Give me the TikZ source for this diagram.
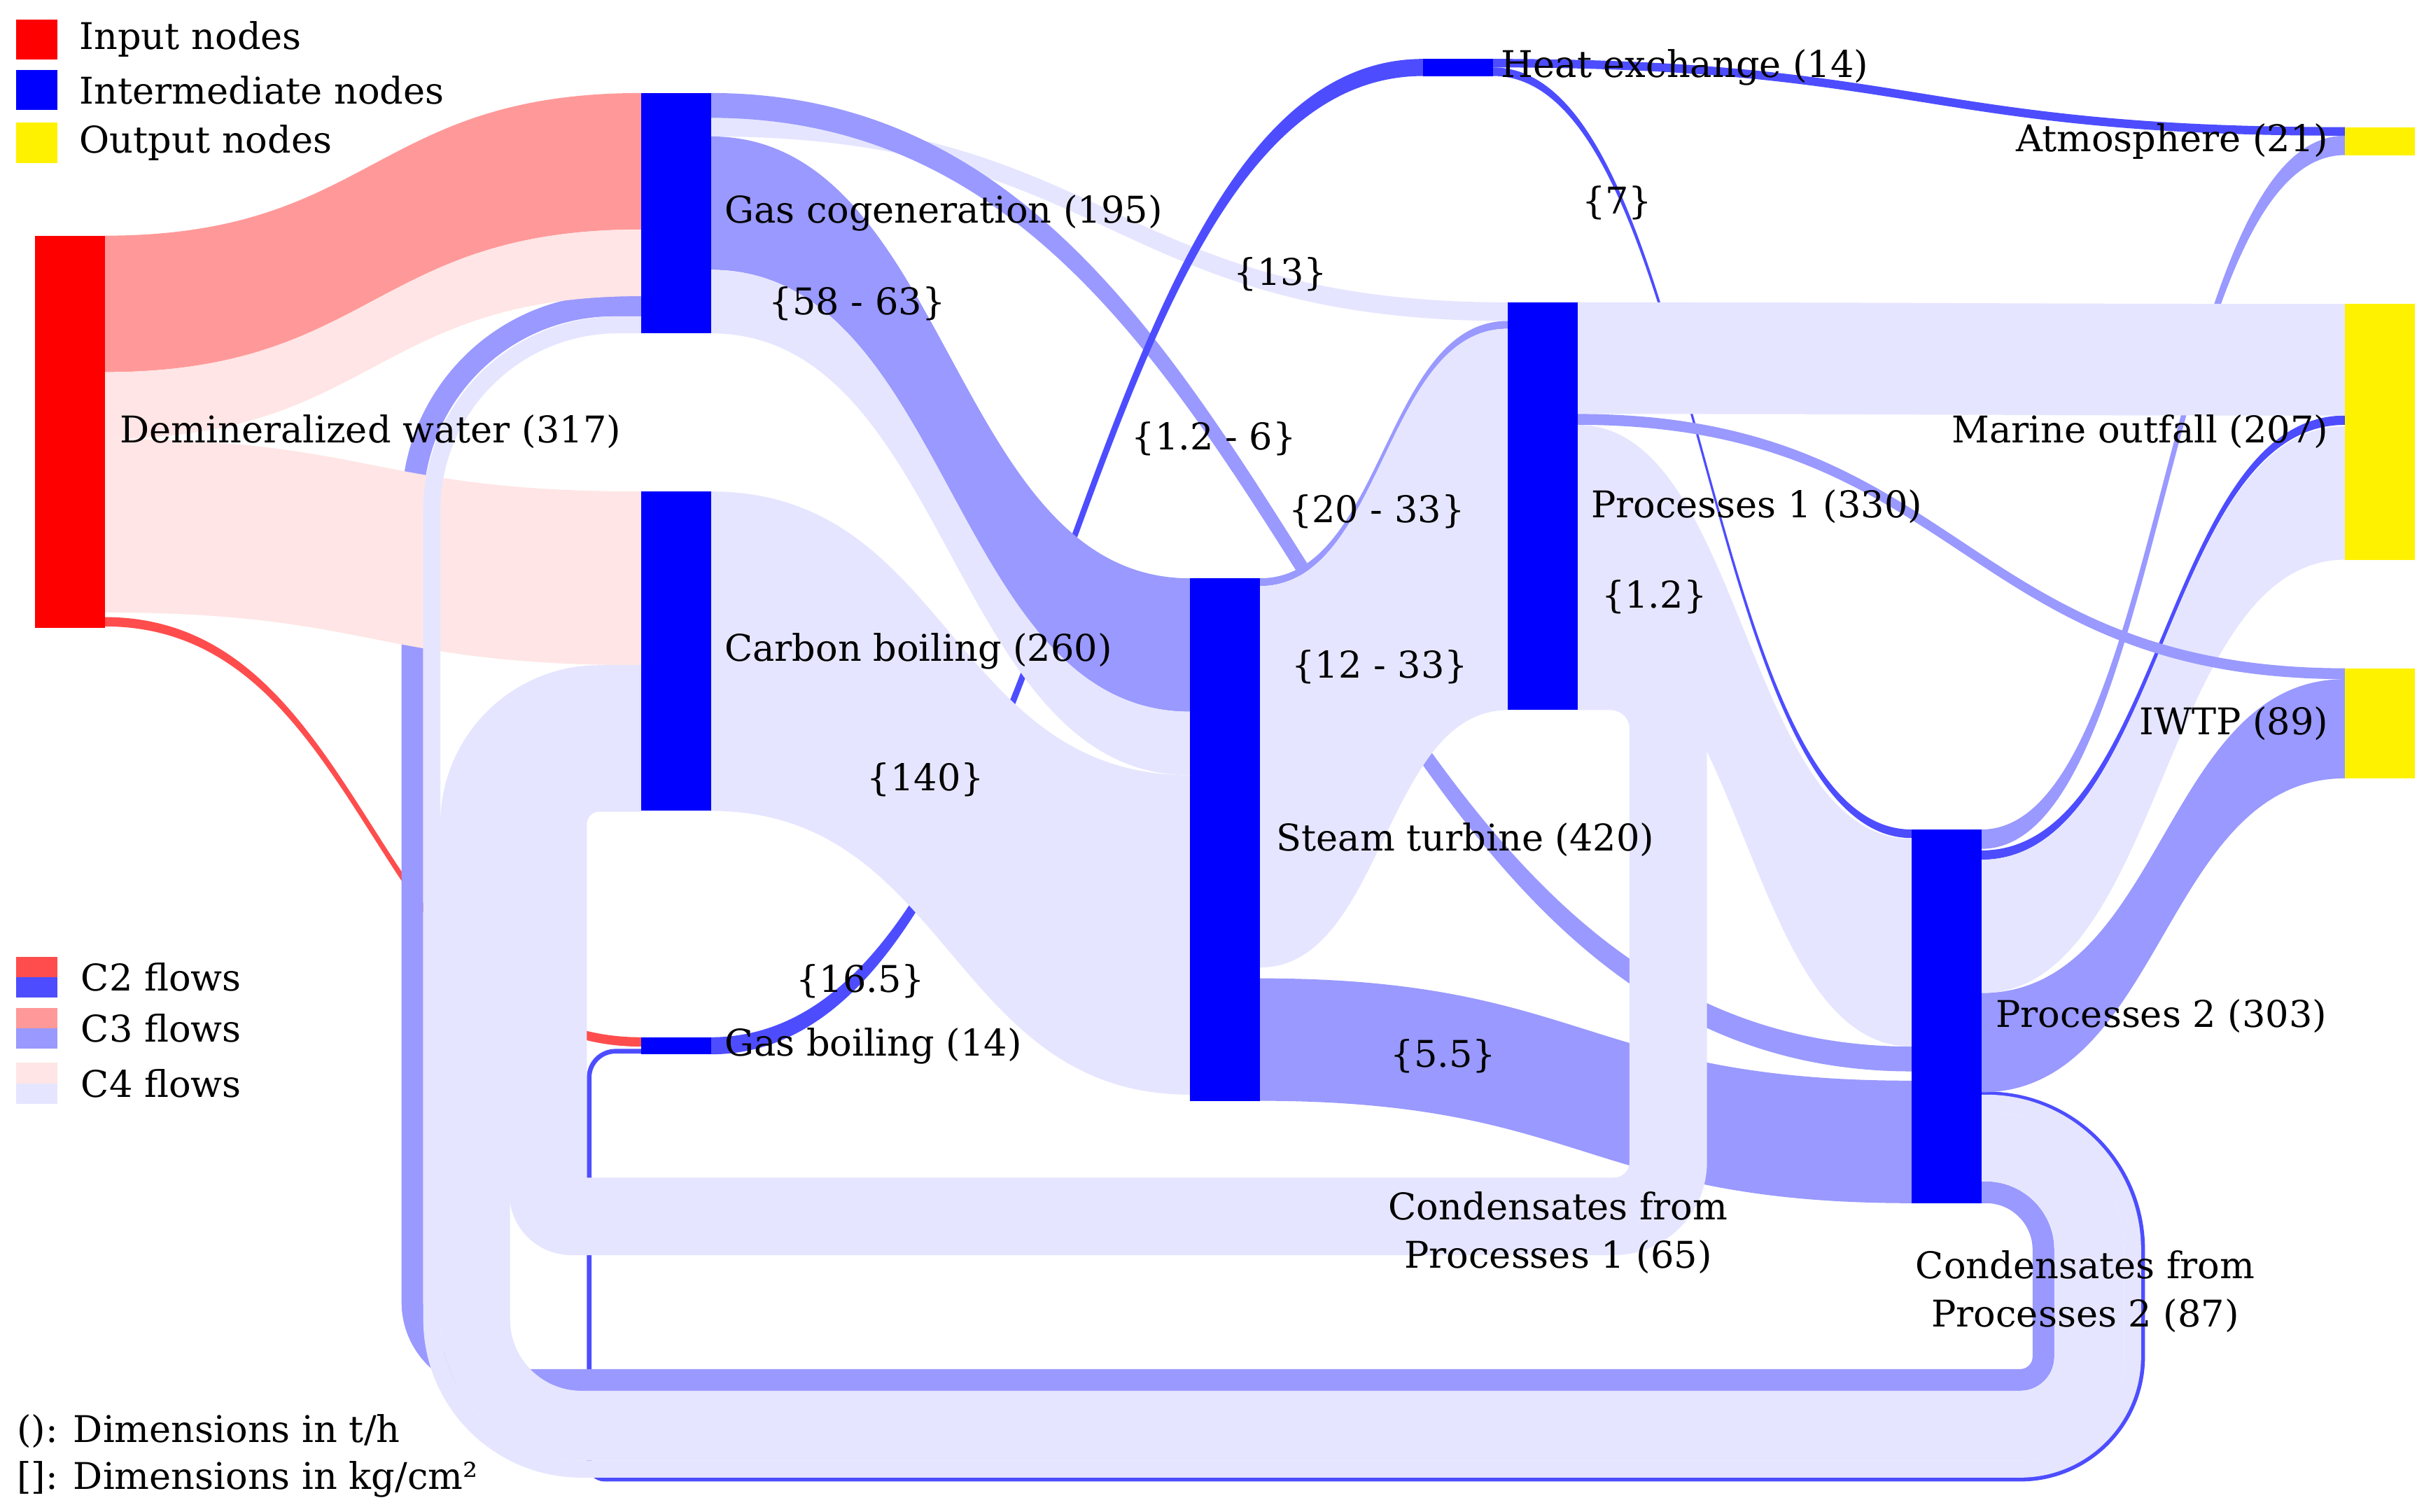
\documentclass[tikz,border=0pt]{standalone}
\usepackage{fontspec}
\setmainfont{DejaVu Serif}
\usetikzlibrary{calc,positioning}

\definecolor{redtwo}{HTML}{FF4D4D}
\definecolor{bluetwo}{HTML}{4D4DFF}
\definecolor{redthree}{HTML}{FF9999}
\definecolor{bluethree}{HTML}{9999FF}
\definecolor{redfour}{HTML}{FFE5E5}
\definecolor{bluefour}{HTML}{E5E5FF}

\pgfdeclarelayer{flows}
\pgfsetlayers{flows,main}

\tikzset{
  bar/.style={inner sep=0pt, outer sep=0pt, minimum width=9mm, anchor=north west},
  innode/.style={bar, fill=red, minimum height=#1*0.2mm},
  midnode/.style={bar, fill=blue, minimum height=#1*0.2mm},
  outnode/.style={bar, fill=yellow, minimum height=#1*0.2mm},
  keybox/.style={bar, minimum width=5.3mm, minimum height=#1},
  lbl/.style={inner sep=0pt, font=\fontsize{13.5}{17.6}\selectfont},
  ctwored/.style={fill=redtwo},
  ctwoblue/.style={fill=bluetwo},
  cthreered/.style={fill=redthree},
  cthreeblue/.style={fill=bluethree},
  cfourred/.style={fill=redfour},
  cfourblue/.style={fill=bluefour},
  loopline/.style={draw=#1, line cap=butt},
  loopw/.style={line width=#1*0.2mm},
}

% [style] source, offset, target, offset, width
\newcommand\flowband[6][]{%
  \path[#1] let \p1=($(#2.north east)+(0,#3)$), \p2=($(#4.north west)+(0,#5)$),
    \p3=($(\p2)+(0,#6)$), \p4=($(\p1)+(0,#6)$), \p5=($(\p1)!.5!(\p2)$) in
    (\p1) .. controls (\x5,\y1) and (\x5,\y2) .. (\p2) -- (\p3)
    .. controls (\x5,\y3) and (\x5,\y4) .. (\p4) -- cycle;}

\begin{document}
\begin{tikzpicture}[x=0.2mm, y=-0.2mm]
  \useasboundingbox (0,0) rectangle (1568,975);

  % nodes
  \node[innode=253] (dw) at (22.5,152) {};
  \node[midnode=155] (gc) at (413.5,60) {};
  \node[midnode=206] (cb) at (413.5,317) {};
  \node[midnode=11] (gb) at (413.5,669) {};
  \node[midnode=11] (he) at (918,38) {};
  \node[midnode=337] (st) at (767.5,373) {};
  \node[midnode=263] (p1) at (972.5,195) {};
  \node[midnode=241] (p2) at (1233,535) {};
  \node[outnode=18] (atm) at (1512.5,82) {};
  \node[outnode=165] (mo) at (1512.5,196) {};
  \node[outnode=71] (iwtp) at (1512.5,431) {};

  % node labels
  \node[lbl, right=1.9mm of dw] (dwlbl) {Demineralized water (317)};
  \node[lbl, right=1.7mm of gc] (gclbl) {Gas cogeneration (195)};
  \node[lbl, right=1.7mm of cb] (cblbl) {Carbon boiling (260)};
  \node[lbl, right=1.7mm of gb] (gblbl) {Gas boiling (14)};
  \node[lbl, right=1mm of he] (helbl) {Heat exchange (14)};
  \node[lbl, right=2.1mm of st] (stlbl) {Steam turbine (420)};
  \node[lbl, right=1.7mm of p1] (ponelbl) {Processes 1 (330)};
  \node[lbl, right=1.8mm of p2] (ptwolbl) {Processes 2 (303)};
  \node[lbl, left=2.1mm of atm] (atmlbl) {Atmosphere (21)};
  \node[lbl, left=2.1mm of mo] (molbl) {Marine outfall (207)};
  \node[lbl, left=2.1mm of iwtp] (iwtplbl) {IWTP (89)};
  \node[lbl, align=center] (condone) at (1005,795) {Condensates from\\Processes 1 (65)};
  \node[lbl, align=center] (condtwo) at (1345,833) {Condensates from\\Processes 2 (87)};

  % pressures
  \node[lbl] (pgcst) at (553,196) {\{58 - 63\}};
  \node[lbl] (pgcpone) at (826,177) {\{13\}};
  \node[lbl] (pgcptwo) at (783,283) {\{1.2 - 6\}};
  \node[lbl] (pheptwo) at (1043,131) {\{7\}};
  \node[lbl] (pstpone) at (888,330) {\{20 - 33\}};
  \node[lbl] (pstponeb) at (890,430) {\{12 - 33\}};
  \node[lbl] (poneptwo) at (1067,385) {\{1.2\}};
  \node[lbl] (pcbst) at (597,503) {\{140\}};
  \node[lbl] (pgbhe) at (555,633) {\{16.5\}};
  \node[lbl] (pstptwo) at (931,681) {\{5.5\}};

  % legend
  \node[keybox=5.2mm, fill=red] (keyin) at (10.5,12.5) {};
  \node[keybox=5.2mm, fill=blue] (keymid) at (10.5,45) {};
  \node[keybox=5.2mm, fill=yellow] (keyout) at (10.5,79) {};
  \node[lbl, right=2.8mm of keyin] {Input nodes};
  \node[lbl, right=2.8mm of keymid] {Intermediate nodes};
  \node[lbl, right=2.8mm of keyout] {Output nodes};

  \node[keybox=2.65mm, fill=redtwo] (keytwo) at (10.5,617) {};
  \node[keybox=2.65mm, fill=bluetwo, below=0pt of keytwo] (keytwob) {};
  \node[keybox=2.65mm, fill=redthree] (keythree) at (10.5,650) {};
  \node[keybox=2.65mm, fill=bluethree, below=0pt of keythree] (keythreeb) {};
  \node[keybox=2.65mm, fill=redfour] (keyfour) at (10.5,685.5) {};
  \node[keybox=2.65mm, fill=bluefour, below=0pt of keyfour] (keyfourb) {};
  \node[lbl, right=3mm of keytwo.south east] {C2 flows};
  \node[lbl, right=3mm of keythree.south east] {C3 flows};
  \node[lbl, right=3mm of keyfour.south east] {C4 flows};

  \node[lbl, anchor=west] (unitth) at (10.5,923) {(): Dimensions in t/h};
  \node[lbl, anchor=west] (unitkg) at (10.5,954) {[]: Dimensions in kg/cm²};

  \begin{pgfonlayer}{flows}
    \fill[white] (0,0) rectangle (1568,975);

    \flowband[ctwored]{dw}{246}{gb}{0}{6}
    % C2 return to gas boiling
    \draw[loopline=bluetwo, loopw=3] ($(p2.north east)+(0,170.5)$) -- (1281.5,705.5)
      .. controls +(55.5,0) and +(0,-55.5) .. (1382,806) -- (1382,875)
      .. controls +(0,43.6) and +(43.6,0) .. (1303,954) -- (390,954)
      .. controls +(-5.5,0) and +(0,5.5) .. (380,944) -- (380,695)
      .. controls +(0,-9.4) and +(-9.4,0) .. (397,678) -- ($(gb.north west)+(0,9)$);
    % C3 return to gas cogeneration
    \draw[loopline=bluethree, loopw=14] ($(p2.north east)+(0,234)$) -- (1281,769)
      .. controls +(20.4,0) and +(0,-20.4) .. (1318,806) -- (1318,875)
      .. controls +(0,8.3) and +(8.3,0) .. (1303,890) -- (316,890)
      .. controls +(-27.6,0) and +(0,27.6) .. (266,840) -- (266,327)
      .. controls +(0,-71.8) and +(-71.8,0) .. (396,197) -- ($(gc.north west)+(0,137)$);

    \flowband[cthreered]{dw}{0}{gc}{0}{88}
    \flowband[cfourred]{dw}{88}{gc}{88}{43}
    \flowband[cfourred]{dw}{131}{cb}{0}{112}

    % C4 returns from processes 2
    \draw[loopline=bluefour, loopw=11] ($(p2.north east)+(0,176.5)$) -- (1281,711.5)
      .. controls +(52.2,0) and +(0,-52.2) .. (1375.5,806) -- (1375.5,875)
      .. controls +(0,40) and +(40,0) .. (1303,947.5) -- (375,947.5)
      .. controls +(-53.3,0) and +(0,53.3) .. (278.5,851) -- (278.5,329.5)
      .. controls +(0,-66.3) and +(-66.3,0) .. (398.5,209.5) -- ($(gc.north west)+(0,149.5)$);
    \draw[loopline=bluefour, loopw=45] ($(p2.north east)+(0,204.5)$) -- (1281,739.5)
      .. controls +(36.7,0) and +(0,-36.7) .. (1347.5,806) -- (1347.5,875)
      .. controls +(0,24.6) and +(24.6,0) .. (1303,919.5) -- (375,919.5)
      .. controls +(-37.8,0) and +(0,37.8) .. (306.5,851) -- (306.5,531.5)
      .. controls +(0,-44.2) and +(-44.2,0) .. (386.5,451.5) -- ($(cb.north west)+(0,134.5)$);

    \flowband[cfourblue]{gc}{16}{p1}{0}{12}
    \flowband[cthreeblue]{gc}{0}{p2}{140}{16}
    \flowband[ctwoblue]{gb}{0}{he}{0}{11}
    \flowband[cthreeblue]{gc}{28}{st}{0}{86}
    \flowband[cfourblue]{gc}{114}{st}{86}{41}
    \flowband[cfourblue]{cb}{0}{st}{127}{206}

    \flowband[ctwoblue]{he}{0}{atm}{0}{5.5}
    \flowband[ctwoblue]{he}{5.5}{p2}{0}{5.5}

    \flowband[cthreeblue]{st}{0}{p1}{12}{5}
    \flowband[cfourblue]{st}{5}{p1}{17}{246}
    \flowband[cthreeblue]{st}{258}{p2}{162}{79}

    \flowband[cthreeblue]{p2}{0}{atm}{5.5}{12.5}
    \flowband[ctwoblue]{p2}{13.5}{mo}{72}{6}
    \flowband[cfourblue]{p2}{19.5}{mo}{79}{86}
    \flowband[cthreeblue]{p2}{105.5}{iwtp}{7}{64}

    \flowband[cfourblue]{p1}{0}{mo}{0}{72}
    \flowband[cthreeblue]{p1}{72}{iwtp}{0}{7}
    \flowband[cfourblue]{p1}{79}{p2}{6}{134}

    % condensates from processes 1
    \draw[loopline=bluefour, loopw=50] ($(p1.north east)+(0,238)$) -- (1039,433)
      .. controls +(20.4,0) and +(0,-20.4) .. (1076,470) -- (1076,749.5)
      .. controls +(0,19.3) and +(19.3,0) .. (1041,784.5) -- (368.5,784.5)
      .. controls +(-8.3,0) and +(0,8.3) .. (353.5,769.5) -- (353.5,531.5)
      .. controls +(0,-18.2) and +(-18.2,0) .. (386.5,498.5) -- ($(cb.north west)+(0,181.5)$);
  \end{pgfonlayer}
\end{tikzpicture}
\end{document}
